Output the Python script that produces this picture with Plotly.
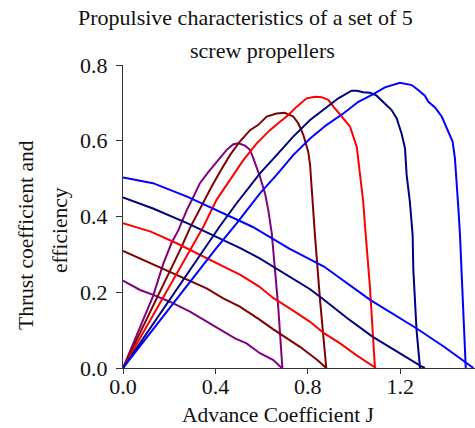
import plotly.graph_objects as go

# ---- data (advance coefficient J, value) ----
colors = ["#800080", "#800000", "#ff0000", "#000080", "#0000ff"]

eff_J_1 = [0, 0.13, 0.175, 0.21, 0.24, 0.276, 0.305, 0.333, 0.37, 0.413, 0.449, 0.478, 0.5, 0.528, 0.55, 0.564, 0.593, 0.615, 0.629, 0.644, 0.651, 0.658, 0.672, 0.69]
eff_v_1 = [0, 0.19, 0.276, 0.33, 0.364, 0.417, 0.452, 0.488, 0.518, 0.549, 0.576, 0.591, 0.593, 0.587, 0.576, 0.554, 0.505, 0.461, 0.417, 0.356, 0.312, 0.267, 0.162, 0]

eff_J_2 = [0, 0.25, 0.29, 0.34, 0.384, 0.42, 0.463, 0.506, 0.55, 0.586, 0.622, 0.665, 0.70, 0.737, 0.759, 0.781, 0.802, 0.81, 0.817, 0.831, 0.853, 0.88]
eff_v_2 = [0, 0.315, 0.37, 0.43, 0.479, 0.518, 0.562, 0.598, 0.628, 0.642, 0.664, 0.672, 0.674, 0.664, 0.646, 0.615, 0.571, 0.536, 0.466, 0.351, 0.18, 0]

eff_J_3 = [0, 0.29, 0.348, 0.405, 0.463, 0.521, 0.579, 0.636, 0.68, 0.716, 0.752, 0.795, 0.831, 0.86, 0.889, 0.911, 0.947, 0.983, 1.012, 1.026, 1.04, 1.051, 1.069, 1.091]
eff_v_3 = [0, 0.312, 0.373, 0.444, 0.496, 0.549, 0.593, 0.628, 0.650, 0.668, 0.690, 0.712, 0.716, 0.715, 0.708, 0.690, 0.664, 0.637, 0.584, 0.51, 0.439, 0.351, 0.215, 0]

eff_J_4 = [0, 0.348, 0.42, 0.492, 0.593, 0.665, 0.737, 0.81, 0.882, 0.932, 0.99, 1.012, 1.04, 1.069, 1.098, 1.134, 1.163, 1.185, 1.206, 1.221, 1.228, 1.242, 1.254, 1.257, 1.271, 1.286]
eff_v_4 = [0, 0.312, 0.375, 0.435, 0.514, 0.562, 0.611, 0.655, 0.690, 0.712, 0.732, 0.732, 0.728, 0.727, 0.719, 0.699, 0.681, 0.659, 0.619, 0.58, 0.51, 0.439, 0.351, 0.259, 0.1, 0]

eff_J_5 = [0, 0.398, 0.492, 0.593, 0.665, 0.737, 0.81, 0.882, 0.954, 1.019, 1.084, 1.134, 1.199, 1.25, 1.278, 1.307, 1.322, 1.351, 1.38, 1.401, 1.427, 1.437, 1.445, 1.452, 1.459, 1.473, 1.484]
eff_v_5 = [0, 0.312, 0.382, 0.461, 0.51, 0.562, 0.606, 0.642, 0.672, 0.703, 0.723, 0.741, 0.753, 0.747, 0.734, 0.719, 0.703, 0.688, 0.664, 0.633, 0.598, 0.554, 0.492, 0.422, 0.351, 0.171, 0]

thr_J_1 = [0, 0.074, 0.131, 0.203, 0.29, 0.362, 0.434, 0.485, 0.535, 0.593, 0.651, 0.68, 0.687]
thr_v_1 = [0.231, 0.206, 0.193, 0.175, 0.149, 0.122, 0.096, 0.078, 0.065, 0.039, 0.021, 0.005, 0]

thr_J_2 = [0, 0.102, 0.203, 0.29, 0.362, 0.434, 0.506, 0.593, 0.651, 0.766, 0.84, 0.88]
thr_v_2 = [0.309, 0.281, 0.254, 0.228, 0.210, 0.184, 0.162, 0.127, 0.102, 0.056, 0.022, 0]

thr_J_3 = [0, 0.12, 0.23, 0.38, 0.51, 0.59, 0.65, 0.72, 0.81, 0.87, 0.94, 1.01, 1.06, 1.095]
thr_v_3 = [0.382, 0.360, 0.330, 0.285, 0.245, 0.215, 0.185, 0.158, 0.122, 0.092, 0.065, 0.034, 0.015, 0]

thr_J_4 = [0, 0.13, 0.28, 0.42, 0.51, 0.59, 0.67, 0.72, 0.81, 0.87, 0.97, 1.08, 1.18, 1.29, 1.307]
thr_v_4 = [0.450, 0.421, 0.382, 0.342, 0.316, 0.290, 0.261, 0.242, 0.208, 0.180, 0.132, 0.083, 0.045, 0.005, 0]

thr_J_5 = [0, 0.13, 0.28, 0.42, 0.56, 0.72, 0.87, 1.07, 1.27, 1.39, 1.49, 1.517]
thr_v_5 = [0.503, 0.488, 0.452, 0.413, 0.373, 0.315, 0.268, 0.180, 0.105, 0.056, 0.012, 0]

x_ticks = [0.0, 0.4, 0.8, 1.2]
y_ticks = [0.0, 0.2, 0.4, 0.6, 0.8]

title_lines = ["Propulsive characteristics of a set of 5", "screw propellers"]
y_title_lines = ["Thrust coefficient and", "efficiency"]
x_title = "Advance Coefficient J"

eff = [(eff_J_1, eff_v_1), (eff_J_2, eff_v_2), (eff_J_3, eff_v_3), (eff_J_4, eff_v_4), (eff_J_5, eff_v_5)]
thr = [(thr_J_1, thr_v_1), (thr_J_2, thr_v_2), (thr_J_3, thr_v_3), (thr_J_4, thr_v_4), (thr_J_5, thr_v_5)]

FONT = "Liberation Serif, Times New Roman, serif"
fig = go.Figure()
for i in range(5):
    fig.add_trace(go.Scatter(x=thr[i][0], y=thr[i][1], mode="lines",
                             line=dict(color=colors[i], width=2), hoverinfo="skip"))
    fig.add_trace(go.Scatter(x=eff[i][0], y=eff[i][1], mode="lines",
                             line=dict(color=colors[i], width=2), hoverinfo="skip"))

# plot area in pixels: left 123, right 475, top 65, bottom 368
L, R, T, B = 123, 475, 65, 368
W, H = R - L, B - T
def px(x):
    return (x - L) / W
def py(y):
    return (B - y) / H

ann = []
ann.append(dict(text=title_lines[0], x=px(245), y=py(17.5), xref="paper", yref="paper",
                xanchor="center", yanchor="middle", showarrow=False, font=dict(family=FONT, size=22, color="#111")))
ann.append(dict(text=title_lines[1], x=px(262), y=py(50.5), xref="paper", yref="paper",
                xanchor="center", yanchor="middle", showarrow=False, font=dict(family=FONT, size=22, color="#111")))
ann.append(dict(text=x_title, x=px(277.5), y=py(415), xref="paper", yref="paper", height=22,
                xanchor="center", yanchor="middle", showarrow=False, font=dict(family=FONT, size=21.5, color="#111")))
ann.append(dict(text=y_title_lines[0], x=px(26), y=py(235), xref="paper", yref="paper", textangle=-90,
                xanchor="center", yanchor="middle", showarrow=False, font=dict(family=FONT, size=21.5, color="#111")))
ann.append(dict(text=y_title_lines[1], x=px(59.5), y=py(230.5), xref="paper", yref="paper", textangle=-90,
                xanchor="center", yanchor="middle", showarrow=False, font=dict(family=FONT, size=21.5, color="#111")))

fig.update_layout(
    width=475, height=428,
    margin=dict(l=L, r=475 - R, t=T, b=428 - B),
    paper_bgcolor="white", plot_bgcolor="white",
    showlegend=False,
    annotations=ann,
    font=dict(family=FONT, size=21, color="#111"),
)
fig.update_xaxes(range=[0, 1.524], tickvals=x_ticks, ticktext=[f"{v:.1f}" for v in x_ticks],
                 showgrid=False, zeroline=False, showline=True, linecolor="#333", linewidth=1,
                 ticks="outside", ticklen=5, tickcolor="#333", ticklabelstandoff=-6,
                 tickfont=dict(family=FONT, size=22, color="#111"))
fig.update_yaxes(range=[0, 0.8], tickvals=y_ticks, ticktext=[f"{v:.1f}" for v in y_ticks],
                 showgrid=False, zeroline=False, showline=True, linecolor="#333", linewidth=1,
                 ticks="outside", ticklen=6, tickcolor="#333", ticklabelstandoff=4,
                 tickfont=dict(family=FONT, size=22, color="#111"))

fig.write_html("out.html")
